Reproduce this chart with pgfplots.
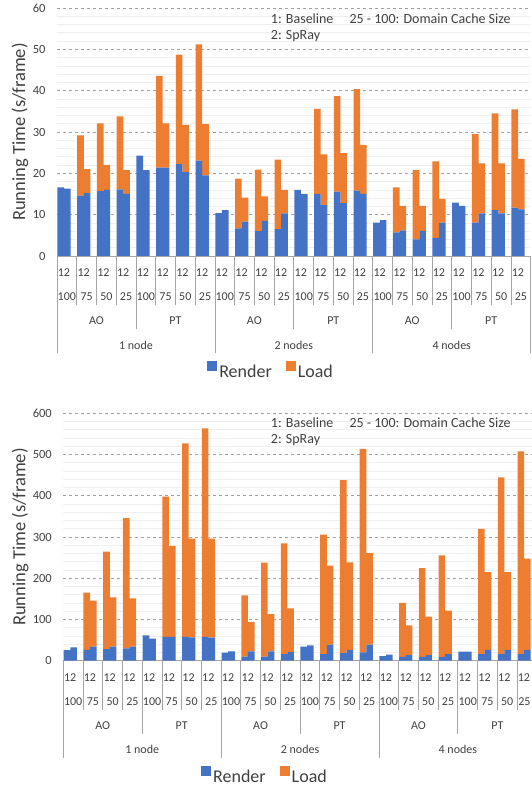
\documentclass[border=0pt]{standalone}
\usepackage{fontspec}
\setmainfont{Carlito}
\usepackage{pgfplots}
\pgfplotsset{compat=1.18}
\usepackage{pgfplotstable}

\definecolor{cblue}{HTML}{4472C4}
\definecolor{corange}{HTML}{ED7D31}
\definecolor{ctext}{HTML}{404040}
\definecolor{cgrid}{HTML}{A0A0A0}
\definecolor{cminor}{HTML}{EFEFEF}
\definecolor{csep}{HTML}{A6A6A6}

% x = group + 0.19 (1: Baseline) / group + 0.525 (2: SpRay)
\pgfplotstableread{
x render load
0.19 16.6 0
0.525 16.3 0
1.19 14.6 14.6
1.525 15.2 5.8
2.19 15.7 16.4
2.525 16.0 6.0
3.19 16.1 17.7
3.525 15.0 5.8
4.19 24.3 0
4.525 20.8 0
5.19 21.4 22.2
5.525 21.4 10.7
6.19 22.2 26.5
6.525 20.3 11.4
7.19 23.1 28.1
7.525 19.5 12.4
8.19 10.4 0
8.525 11.1 0
9.19 6.7 12.0
9.525 8.3 5.8
10.19 6.0 14.9
10.525 8.5 5.9
11.19 6.5 16.8
11.525 10.3 5.7
12.19 16.0 0
12.525 15.0 0
13.19 15.0 20.6
13.525 12.3 12.3
14.19 15.6 23.1
14.525 12.8 12.1
15.19 15.8 24.6
15.525 15.0 11.9
16.19 8.1 0
16.525 8.7 0
17.19 5.7 10.9
17.525 6.2 5.9
18.19 4.0 16.8
18.525 6.1 6.0
19.19 4.4 18.5
19.525 8.1 5.7
20.19 12.9 0
20.525 12.1 0
21.19 8.1 21.4
21.525 10.3 12.1
22.19 11.1 23.4
22.525 10.3 12.1
23.19 11.7 23.8
23.525 11.3 12.2
}\topdata

\pgfplotstableread{
x render load
0.19 25.9 0
0.525 32.3 0
1.19 26 139
1.525 34 111.6
2.19 28.3 236.1
2.525 34 119.6
3.19 30 316
3.525 34 117.2
4.19 61.5 0
4.525 53.4 0
5.19 58 340
5.525 58 220
6.19 58 469
6.525 56.6 239.4
7.19 58 505.6
7.525 55.8 240.2
8.19 19.4 0
8.525 22.6 0
9.19 9.7 148.8
9.525 22.6 71.2
10.19 9.7 228
10.525 22.6 90.6
11.19 16 268.6
11.525 21 106
12.19 34 0
12.525 37.2 0
13.19 16 289.6
13.525 38.8 191.7
14.19 18.6 419.4
14.525 26 212.5
15.19 20 493.5
15.525 38.8 222.2
16.19 11.3 0
16.525 14.6 0
17.19 9 131
17.525 13.7 72
18.19 9 215.8
18.525 13.7 93
19.19 9 246.5
19.525 16 105.3
20.19 21.8 0
20.525 21.8 0
21.19 16 304
21.525 26 189
22.19 16 428.7
22.525 26 189
23.19 16 491.8
23.525 26 221.4
}\botdata

\tikzset{catlab/.style={font=\fontsize{12}{14}\selectfont, text=ctext, inner sep=0pt}}

\pgfplotsset{
  runchart/.style={
    scale only axis,
    xmin=0, xmax=24, ymin=0,
    enlargelimits=false,
    clip=false,
    ybar stacked,
    bar width=0.335,
    axis x line*=bottom,
    axis y line*=left,
    separate axis lines,
    x axis line style={draw=csep, line width=0.8pt},
    y axis line style={draw=none},
    xtick=\empty,
    major tick length=0pt, minor tick length=0pt,
    ymajorgrids, yminorgrids,
    minor y tick num=4,
    major grid style={dashed, cgrid, line width=0.7pt},
    minor grid style={cminor, line width=0.7pt},
    /pgf/number format/assume math mode=true,
    yticklabel style={font=\fontsize{12.5}{14}\selectfont, text=ctext, anchor=east, xshift=-8pt},
    ylabel={Running Time (s/frame)},
    ylabel style={font=\fontsize{18.5}{20}\selectfont, text=ctext, anchor=center},
    legend columns=-1,
    legend style={draw=none, fill=none, font=\fontsize{18}{20}\selectfont, text=ctext,
      /tikz/every even column/.append style={column sep=12pt}},
    legend image code/.code={\fill[##1, draw=none] (0pt,1.5pt) rectangle (10pt,11.5pt);},
  }
}

% #1: shift of the last "25", which sits at the right edge
\newcommand{\catlabels}[1]{%
  \pgfplotsinvokeforeach{1,...,23}{\draw[csep, line width=0.8pt] (axis cs:##1,0) -- ([yshift=-49pt]axis cs:##1,0);}
  \pgfplotsinvokeforeach{4,12,20}{\draw[csep, line width=0.8pt] (axis cs:##1,0) -- ([yshift=-73pt]axis cs:##1,0);}
  \pgfplotsinvokeforeach{0,8,16,24}{\draw[csep, line width=0.8pt] (axis cs:##1,0) -- ([yshift=-97pt]axis cs:##1,0);}
  \pgfplotsinvokeforeach{0,...,23}{\node[catlab] at ([yshift=-17pt]axis cs:##1+0.35,0) {12};}
  \pgfplotsinvokeforeach{0,4,...,20}{%
    \node[catlab] at ([yshift=-41pt]axis cs:##1+0.5,0) {100};
    \node[catlab] at ([yshift=-41pt]axis cs:##1+1.5,0) {75};
    \node[catlab] at ([yshift=-41pt]axis cs:##1+2.5,0) {50};}
  \pgfplotsinvokeforeach{3,7,11,15,19}{\node[catlab] at ([yshift=-41pt]axis cs:##1+0.5,0) {25};}
  \node[catlab] at ([yshift=-41pt, xshift=#1]axis cs:23.5,0) {25};
  \pgfplotsinvokeforeach{2,10,18}{\node[catlab] at ([yshift=-65pt]axis cs:##1,0) {AO};}
  \pgfplotsinvokeforeach{6,14,22}{\node[catlab] at ([yshift=-65pt]axis cs:##1,0) {PT};}
  \node[catlab] at ([yshift=-89pt]axis cs:4,0) {1 node};
  \node[catlab] at ([yshift=-89pt]axis cs:12,0) {2 nodes};
  \node[catlab] at ([yshift=-89pt]axis cs:20,0) {4 nodes};
}

\begin{document}
\begin{tikzpicture}
\begin{axis}[runchart,
  at={(57pt,534pt)}, anchor=south west,
  width=473.7pt, height=248pt,
  ymax=60, ytick={0,10,...,60},
  ylabel style={at={(axis description cs:-0.078,0.5)}},
  legend style={at={(0.452,-0.4637)}, anchor=center},
]
\addplot[fill=cblue, draw=none] table[x=x, y=render] {\topdata};
\addlegendentry{Render}
\addplot[fill=corange, draw=none] table[x=x, y=load] {\topdata};
\addlegendentry{Load}
\catlabels{0pt}
\end{axis}

\begin{axis}[runchart,
  at={(63.3pt,129.3pt)}, anchor=south west,
  width=473.5pt, height=247.4pt,
  ymax=600, ytick={0,100,...,600},
  ylabel style={at={(axis description cs:-0.091,0.5)}},
  legend style={at={(0.426,-0.466)}, anchor=center},
]
\addplot[fill=cblue, draw=none] table[x=x, y=render] {\botdata};
\addlegendentry{Render}
\addplot[fill=corange, draw=none] table[x=x, y=load] {\botdata};
\addlegendentry{Load}
\catlabels{-2.5pt}
\end{axis}

\begin{scope}[every node/.style={font=\fontsize{14}{16}\selectfont, text=ctext, anchor=west, inner sep=0pt}]
\node at (270.7pt,771.7pt) {1: Baseline};
\node at (270.7pt,754pt) {2: SpRay};
\node at (349.3pt,771.7pt) {25 - 100: Domain Cache Size};
\node at (270.7pt,367.3pt) {1: Baseline};
\node at (270.7pt,350pt) {2: SpRay};
\node at (349.3pt,367.3pt) {25 - 100: Domain Cache Size};
\end{scope}

\pgfresetboundingbox
\path[use as bounding box] (0pt,0pt) rectangle (532pt,790pt);
\end{tikzpicture}
\end{document}
